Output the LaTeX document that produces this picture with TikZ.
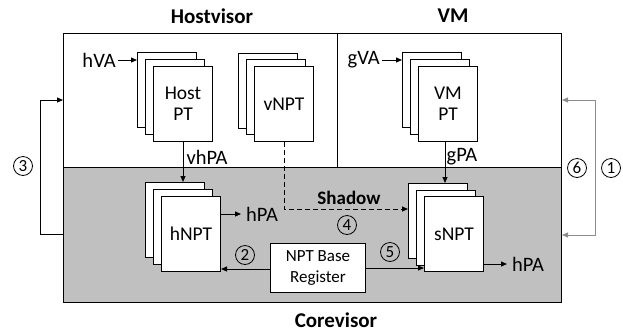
\documentclass[tikz,border=0pt]{standalone}
\usepackage{fontspec}
\setmainfont{Carlito}
\usetikzlibrary{arrows.meta}
\definecolor{coreshade}{HTML}{C0C0C0}
\definecolor{loopgray}{HTML}{8C8C8C}
\tikzset{
  tip/.style={-{Triangle[length=6pt,width=5pt]}},
  page/.style={draw, fill=white, line width=1pt, minimum width=59pt, minimum height=75pt,
    anchor=north west, inner sep=0pt, align=center, font=\fontsize{19.5}{21}\selectfont},
  lbl/.style={font=\fontsize{20.5}{22}\selectfont, inner sep=0pt},
  title/.style={font=\fontsize{21}{24}\selectfont\bfseries, inner sep=0pt},
  circ/.style={draw, circle, line width=0.8pt, minimum size=19pt, inner sep=0pt,
    font=\fontsize{17}{17}\selectfont},
  conn/.style={line width=1pt, tip},
}
\begin{document}
\begin{tikzpicture}[x=1pt,y=-1pt]
\useasboundingbox (0,0) rectangle (623,333);

% frame: guest/host layer on top, shaded corevisor layer below
\node[draw, line width=1pt, fill=coreshade, minimum width=498pt, minimum height=135pt, anchor=north west, inner sep=0pt] (core) at (63,167) {};
\node[draw, line width=1pt, fill=white, minimum width=274pt, minimum height=134pt, anchor=north west, inner sep=0pt] (host) at (63,33) {};
\node[draw, line width=1pt, fill=white, minimum width=224pt, minimum height=134pt, anchor=north west, inner sep=0pt] (vm) at (337,33) {};

\node[title] (thost) at (212,16) {Hostvisor};
\node[title] (tvm) at (453,16) {VM};
\node[title] (tcore) at (336,320) {Corevisor};

% Host page table stack
\node[page] (hostB) at (137,52) {};
\node[page] (hostM) at (145,59) {};
\node[page] (hostF) at (153,66) {Host\\PT};
% vNPT stack
\node[page] (vnptB) at (238,53) {};
\node[page] (vnptM) at (246,59) {};
\node[page] (vnptF) at (254,66) {vNPT};
% VM page table stack
\node[page] (vmB) at (402,52) {};
\node[page] (vmM) at (410,59) {};
\node[page] (vmF) at (418,66) {VM\\PT};
% hNPT stack
\node[page] (hnptB) at (145,182) {};
\node[page] (hnptM) at (153,189) {};
\node[page] (hnptF) at (161,196) {hNPT};
% sNPT stack
\node[page] (snptB) at (408,183) {};
\node[page] (snptM) at (416,190) {};
\node[page] (snptF) at (424,196) {sNPT};

% base register
\node[draw, fill=white, line width=1pt, minimum width=95pt, minimum height=49pt, anchor=north west,
  inner sep=0pt, align=center, font=\fontsize{17}{21}\selectfont] (npt) at (270,243) {NPT Base\\Register};

% address labels
\node[lbl, anchor=east] (hva) at (116,60) {hVA};
\node[lbl, anchor=east] (gva) at (380,60) {gVA};
\node[lbl] (vhpa) at (207,157) {vhPA};
\node[lbl] (gpa) at (462,157) {gPA};
\node[lbl, anchor=west] (hpa1) at (246,214) {hPA};
\node[lbl, anchor=west] (hpa2) at (512,264) {hPA};

\draw[conn] (hva.east) ++(2,0) coordinate (hvaend) -- (hostB.west |- hvaend);
\draw[conn] (gva.east) ++(2,0) coordinate (gvaend) -- (vmB.west |- gvaend);
\draw[conn] (hostF.south) -- (hostF.south |- hnptB.north);
\draw[conn] (vmF.south) ++(-3,0) coordinate (gpatop) -- (gpatop |- snptB.north);
\draw[conn] (hnptF.east |- hpa1.west) -- ([xshift=-5pt]hpa1.west);
\draw[conn] (snptF.east |- hpa2.west) -- ([xshift=-5pt]hpa2.west);

% base register to both tables
\draw[conn] (npt.west |- 0,269) -- (hnptF.east |- 0,269);
\draw[conn] (npt.east |- 0,268) -- (snptF.west |- 0,268);

% shadowing vNPT into sNPT
\coordinate (bend) at (vnptF.south |- 0,209);
\draw[conn, dashed, dash pattern=on 5pt off 3pt] (vnptF.south) -- (bend) -- (snptB.west |- bend);
\node[title, font=\fontsize{19}{21}\selectfont\bfseries] (shadow) at (349,198) {Shadow};

% world switch loops
\coordinate (l1) at (40,234);
\coordinate (l2) at (40,100);
\draw[conn] (host.west |- l1) -- (l1) -- (l2) -- (host.west |- l2);
\coordinate (r1) at (595,100);
\coordinate (r2) at (595,235);
\draw[line width=0.8pt, draw=loopgray, {Triangle[length=6pt,width=5pt]}-{Triangle[length=6pt,width=5pt]}]
  (vm.east |- r1) -- (r1) -- (r2) -- (core.east |- r2);

% step numbers
\node[circ] (s1) at (611,168) {1};
\node[circ] (s2) at (245,255) {2};
\node[circ] (s3) at (23,166) {3};
\node[circ] (s4) at (347,225) {4};
\node[circ] (s5) at (390,252) {5};
\node[circ] (s6) at (577,168) {6};
\end{tikzpicture}
\end{document}
